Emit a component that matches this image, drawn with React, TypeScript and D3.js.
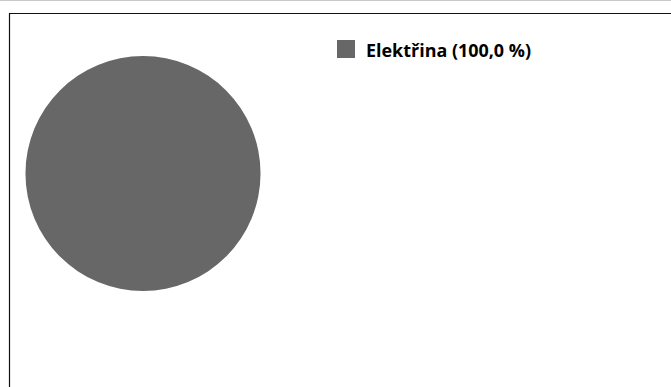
import React from "react";
import * as d3 from "d3";

// Energy share data
const categories: string[] = ["Elektřina"];
const values: number[] = [100.0];
const colors: string[] = ["#676767"];

const W = 671;
const H = 387;

export default function App() {
  const total = d3.sum(values);
  const pie = d3.pie<number>().sort(null).value((d) => d);
  const arcs = pie(values);
  const radius = 117.5;
  const arc = d3.arc<d3.PieArcDatum<number>>().innerRadius(0).outerRadius(radius);
  const fmt = (v: number) => d3.format(".1f")((v / total) * 100).replace(".", ",");

  return (
    <svg
      width={W}
      height={H}
      style={{ position: "absolute", left: 0, top: 0, background: "#fff" }}
    >
      <line x1={0} x2={W} y1={0.5} y2={0.5} stroke="#c8c8c8" strokeWidth={1} />
      <path d={`M9.5,${H} V13.5 H${W}`} fill="none" stroke="#111" strokeWidth={1.2} />
      <g transform="translate(143,173.5)">
        {arcs.map((a, i) => (
          <path key={i} d={arc(a) || ""} fill={colors[i]} />
        ))}
      </g>
      {categories.map((c, i) => (
        <g key={c} transform={`translate(337,${40 + i * 24})`}>
          <rect x={0} y={0} width={18} height={18} fill={colors[i]} />
          <text
            x={29}
            y={16.5}
            fontFamily="'Open Sans', sans-serif"
            fontWeight="bold"
            fontSize={17}
            fill="#000"
            textLength={165}
            lengthAdjust="spacingAndGlyphs"
          >
            {`${c} (${fmt(values[i])} %)`}
          </text>
        </g>
      ))}
    </svg>
  );
}
